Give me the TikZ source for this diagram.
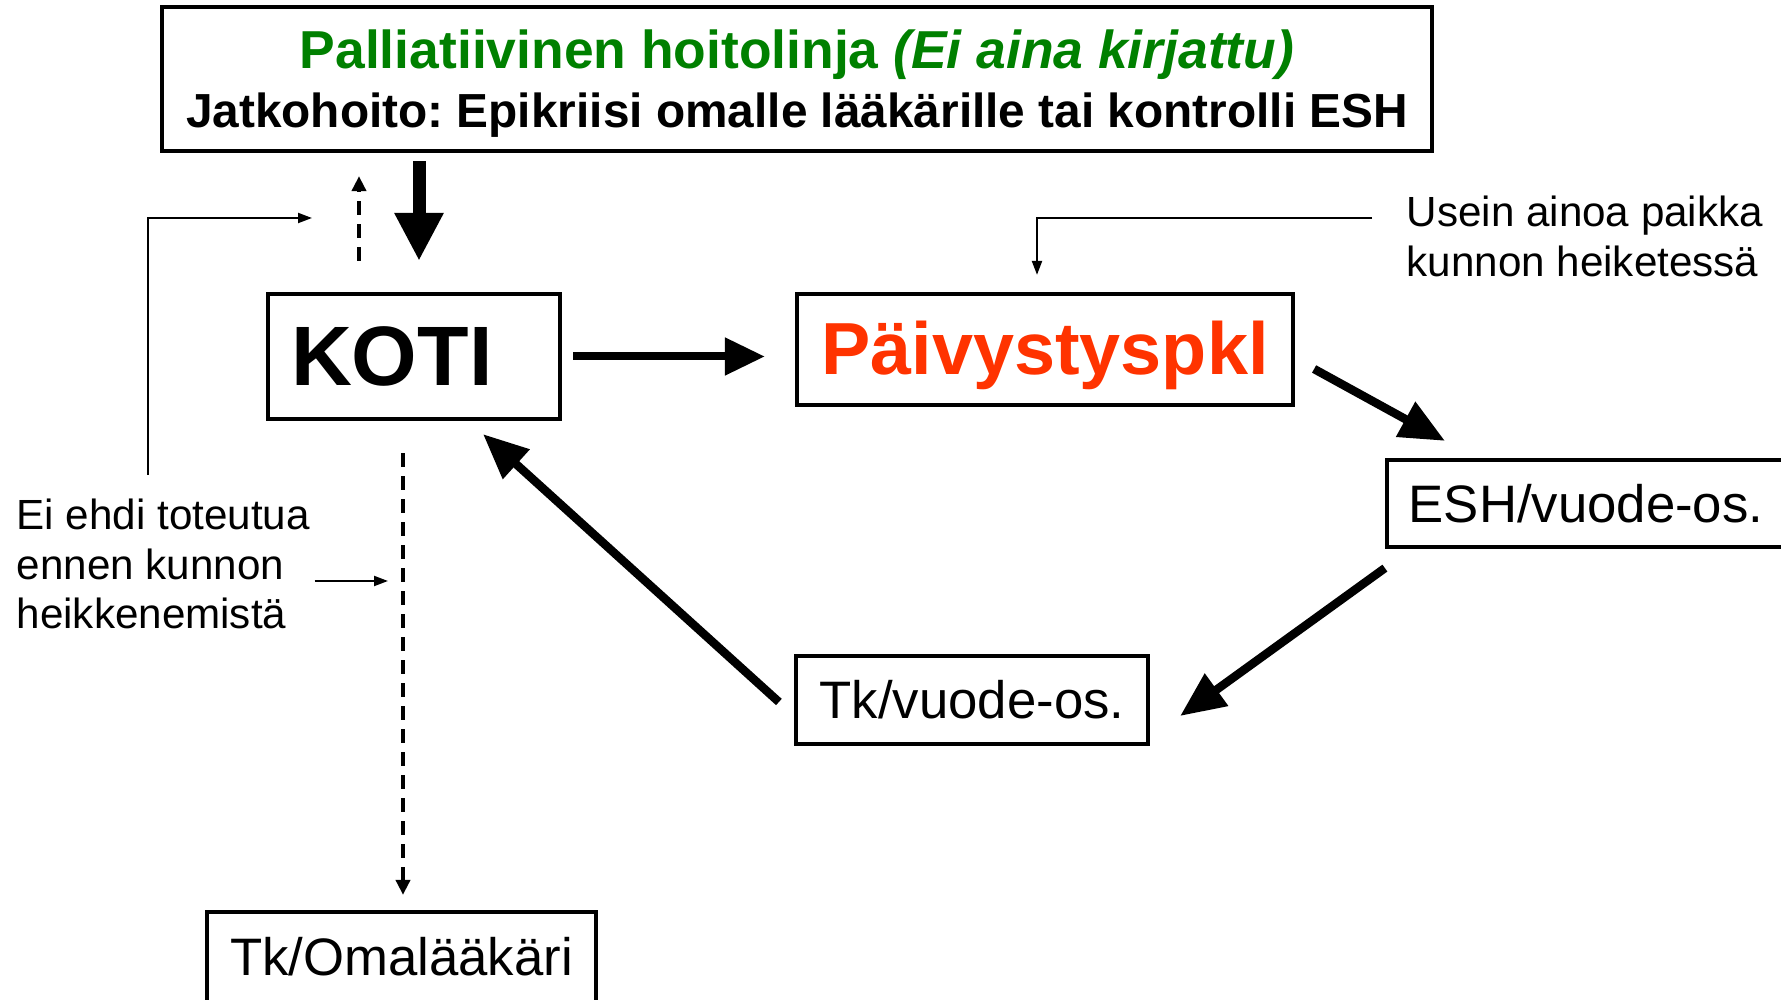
\documentclass[tikz,border=0pt]{standalone}
\usepackage{fontspec}
\setmainfont{Liberation Sans}
\usetikzlibrary{arrows.meta,calc}
\definecolor{paivred}{RGB}{255,51,0}
\definecolor{palgreen}{RGB}{0,128,0}
\frenchspacing

\begin{document}
\begin{tikzpicture}
 \tikzset{box/.style = {draw,line width=1.2pt,inner sep=0pt}}
 \tikzset{bigedge/.style = {->,line width=0.085cm,> = {Triangle[length=0.45cm,width=0.38cm]}}}
 \tikzset{thinedge/.style = {->,line width=0.6pt,> = {Triangle[length=0.14cm,width=0.1cm]}}}
 \tikzset{dashedge/.style = {->,line width=1.1pt,dash pattern=on 0.14cm off 0.09cm,> = {Triangle[length=0.15cm,width=0.14cm]}}}
 \tikzset{note/.style = {anchor=west,align=left,inner sep=0pt,font=\fontsize{12}{14.2}\selectfont}}
 \useasboundingbox (0,0) rectangle (17.81,-10);
 \node[box,minimum width=12.7cm,minimum height=1.44cm,font=\bfseries\fontsize{13.6}{16.8}\selectfont] (top) at (7.97,-0.79)
  {\raisebox{-0.075cm}[\height][\depth]{\begin{tabular}{@{}c@{}}
   \textcolor{palgreen}{\fontsize{15.2}{16.8}\selectfont Palliatiivinen hoitolinja \textit{(Ei aina kirjattu)}}\\
   Jatkohoito: Epikriisi omalle lääkärille tai kontrolli ESH
  \end{tabular}}};
 \node[box,minimum height=1.25cm,text width=2.46cm,inner xsep=0.23cm,font=\bfseries\fontsize{24}{28}\selectfont] (koti) at (4.14,-3.565) {KOTI};
 \node[box,minimum width=4.96cm,minimum height=1.11cm,text=paivred,font=\bfseries\fontsize{21}{25}\selectfont] (paiv) at (10.45,-3.495) {\raisebox{-0.06cm}[\height][\depth]{Päivystyspkl}};
 \node[box,minimum width=3.98cm,minimum height=0.87cm,font=\fontsize{15}{18}\selectfont] (esh) at (15.86,-5.035) {ESH/vuode-os.};
 \node[box,minimum width=3.52cm,minimum height=0.88cm,font=\fontsize{15}{18}\selectfont] (tk) at (9.72,-7.00) {Tk/vuode-os.};
 \node[box,minimum width=3.89cm,minimum height=0.90cm,font=\fontsize{15}{18}\selectfont] (oma) at (4.015,-9.57) {Tk/Omalääkäri};
 \node[note] (usein) at (14.06,-2.36) {Usein ainoa paikka\\kunnon heiketessä};
 \node[note] (eiehdi) at (0.16,-5.64) {Ei ehdi toteutua\\ennen kunnon\\heikkenemistä};
 \coordinate (elb) at (1.48,-4.75);
 \coordinate (elbend) at (3.12,-2.18);
 \coordinate (eiend) at (3.88,-5.81);

 \draw[bigedge,line width=0.13cm,> = {Triangle[length=0.48cm,width=0.46cm]}] ($(koti.north |- top.south)+(0.05,-0.08)$) -- ($(koti.north)+(0.05,0.31)$);
 \draw[dashedge] ($(koti.north)+(-0.55,0.31)$) -- ($(koti.north |- top.south)+(-0.55,-0.23)$);
 \draw[thinedge] (elb) |- (elbend);
 \draw[bigedge,line width=0.08cm,> = {Triangle[length=0.40cm,width=0.36cm]}] ($(koti.east)+(0.11,0)$) -- ($(paiv.west |- koti.east)+(-0.30,0)$);
 \draw[thinedge] ($(usein.west)+(-0.34,0.18)$) -| ($(paiv.north)+(-0.08,0.17)$);
 \draw[bigedge] ($(paiv.east)+(0.19,-0.195)$) -- ($(esh.north)+(-1.41,0.17)$);
 \draw[bigedge] ($(esh.south west)+(0,-0.19)$) -- ($(tk.east)+(0.30,-0.16)$);
 \draw[bigedge] ($(tk.west)+(-0.15,-0.02)$) -- ($(koti.south)+(0.69,-0.13)$);
 \draw[dashedge] ($(koti.south)+(-0.11,-0.32)$) -- ($(oma.north)+(0.015,0.15)$);
 \draw[thinedge] ($(eiehdi.east)+(0.04,-0.17)$) -- (eiend);
\end{tikzpicture}
\end{document}
